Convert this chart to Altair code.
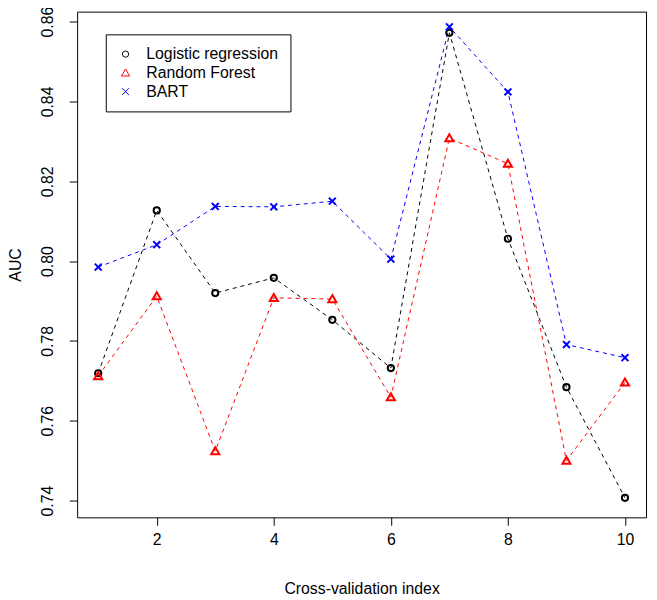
import altair as alt
import pandas as pd

folds = list(range(1, 11))
logistic = [0.7719, 0.8127, 0.7920, 0.7958, 0.7853, 0.7732, 0.8572, 0.8056, 0.7684, 0.7407]
forest = [0.7712, 0.7912, 0.7524, 0.7908, 0.7905, 0.7659, 0.8308, 0.8244, 0.7500, 0.7696]
bart = [0.7985, 0.8041, 0.8137, 0.8136, 0.8150, 0.8005, 0.8587, 0.8424, 0.7791, 0.7758]

series_names = ["Logistic regression", "Random Forest", "BART"]
colors = ["#000000", "#FF0000", "#0000FF"]
shapes = [
    "circle",
    "M0,-1.25L1.3,1L-1.3,1Z",
    "M-1.1,-1.1L1.1,1.1M1.1,-1.1L-1.1,1.1",
]
x_ticks = [2, 4, 6, 8, 10]
y_ticks = [0.74, 0.76, 0.78, 0.80, 0.82, 0.84, 0.86]

rows = []
for name, vals in zip(series_names, [logistic, forest, bart]):
    for f, v in zip(folds, vals):
        rows.append({"series": name, "fold": f, "auc": v})
df = pd.DataFrame(rows)

FONT = "Liberation Sans"

x_enc = alt.X(
    "fold:Q",
    scale=alt.Scale(domain=[0.64, 10.36], nice=False, zero=False),
    axis=alt.Axis(
        values=x_ticks, title="Cross-validation index", grid=False, domain=False,
        tickSize=8, tickColor="#000000", labelPadding=7, labelFontSize=16,
        labelFont=FONT, labelColor="#000000", titleFont=FONT, titleFontSize=16,
        titleFontWeight="normal", titleColor="#000000", titleY=77,
        titleBaseline="alphabetic",
    ),
)
y_enc = alt.Y(
    "auc:Q",
    scale=alt.Scale(domain=[0.7358, 0.8625], nice=False, zero=False),
    axis=alt.Axis(
        values=y_ticks, format=".2f", title="AUC", grid=False, domain=False,
        tickSize=8, tickColor="#000000", labelAngle=270, labelAlign="center",
        labelBaseline="bottom", labelPadding=14, labelFontSize=16, labelFont=FONT,
        labelColor="#000000", titleFont=FONT, titleFontSize=16,
        titleFontWeight="normal", titleColor="#000000", titleAngle=270,
        titleX=-54, titleY=256, titleAlign="center", titleBaseline="bottom",
    ),
)

line_layers = [
    alt.Chart(df)
    .transform_filter(alt.datum.series == name)
    .mark_line(strokeDash=[4, 4], strokeWidth=1, color=col)
    .encode(x=x_enc, y=y_enc)
    for name, col in zip(series_names, colors)
]

points = alt.Chart(df).mark_point(filled=False, strokeWidth=2, size=40, opacity=1).encode(
    x=x_enc,
    y=y_enc,
    color=alt.Color(
        "series:N", scale=alt.Scale(domain=series_names, range=colors),
        title="",
    ),
    shape=alt.Shape(
        "series:N", scale=alt.Scale(domain=series_names, range=shapes),
        title="",
    ),
)

chart = (
    alt.layer(*line_layers, points)
    .properties(
        width=576, height=512,
        autosize=alt.AutoSizeParams(type="none"),
        padding={"left": 70, "top": 0, "right": 3, "bottom": 80},
        background="#FFFFFF",
    )
    .configure_view(stroke="#000000", strokeWidth=1)
    .configure_legend(
        orient="none", legendX=29, legendY=23,
        fillColor="#FFFFFF", strokeColor="#000000", padding=12,
        labelFont=FONT, labelFontSize=16, labelColor="#000000",
        labelOffset=13, rowPadding=3, symbolStrokeWidth=1, symbolSize=40,
        symbolOpacity=1,
    )
)

chart.save("out.html", embed_options={"renderer": "svg", "actions": False})
